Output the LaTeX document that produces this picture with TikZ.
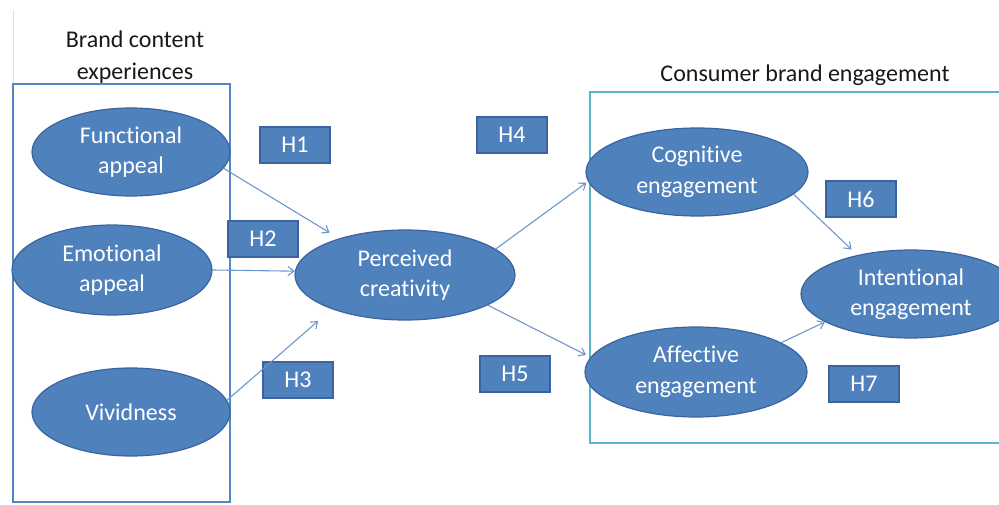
\documentclass[tikz,border=0pt]{standalone}
\usepackage{fontspec}
\setmainfont{Carlito}[Ligatures={NoCommon,NoContextual}]
\usetikzlibrary{shapes.geometric,arrows.meta}
\definecolor{nodefill}{HTML}{4F81BD}
\definecolor{nodeline}{HTML}{3A64A0}
\definecolor{arrowblue}{HTML}{6F97CC}
\definecolor{groupblue}{HTML}{5585C2}
\definecolor{groupteal}{HTML}{5BB5CC}
\begin{document}
\begin{tikzpicture}[x=1pt,y=-1pt,
  construct/.style={ellipse, fill=nodefill, draw=nodeline, line width=1.2pt,
    inner sep=0pt, text=white, align=center,
    font=\fontsize{24}{30.5}\selectfont},
  hyp/.style={rectangle, fill=nodefill, draw=nodeline, line width=1.2pt,
    minimum width=70pt, minimum height=36pt, inner sep=0pt, text=white,
    font=\fontsize{24}{28}\selectfont},
  link/.style={draw=arrowblue, line width=1.1pt,
    -{Straight Barb[length=6pt,width=9pt]}},
  heading/.style={text=black!90, align=center,
    font=\fontsize{24}{32}\selectfont}]
\useasboundingbox (0,0) rectangle (999,505);
\clip (0,0) rectangle (999,505);
\fill[white] (0,0) rectangle (999,505);

% group frames
\draw[black!12, line width=0.8pt] (13,10) -- (13,84);
\draw[groupblue, line width=1.4pt] (13,84) rectangle (230,502);
\draw[groupteal, line width=1.8pt] (590,92) rectangle (1010,443);

% group headings
\node[heading] (bceTitle) at (135,57) {Brand content\\experiences};
\node[heading] (cbeTitle) at (805,75) {Consumer brand engagement};

% constructs
\node[construct, minimum width=198pt, minimum height=88pt] (func) at (131,152) {Functional\\appeal};
\node[construct, minimum width=200pt, minimum height=90pt] (emot) at (112,270) {Emotional\\appeal};
\node[construct, minimum width=198pt, minimum height=88pt] (vivid) at (131,412) {Vividness};
\node[construct, minimum width=220pt, minimum height=90pt] (perc) at (405,275) {Perceived\\creativity};
\node[construct, minimum width=222pt, minimum height=88pt] (cog) at (697,172) {Cognitive\\engagement};
\node[construct, minimum width=222pt, minimum height=90pt] (aff) at (696,372) {Affective\\engagement};
\node[construct, minimum width=220pt, minimum height=88pt] (intent) at (911,294) {Intentional\\engagement};

% hypothesis labels
\node[hyp] (h1) at (295,145) {H1};
\node[hyp] (h2) at (263,239) {H2};
\node[hyp] (h3) at (298,380) {H3};
\node[hyp] (h4) at (512,135) {H4};
\node[hyp] (h5) at (515,374) {H5};
\node[hyp] (h6) at (861,199) {H6};
\node[hyp] (h7) at (864,384) {H7};

% paths
\draw[link, shorten >=11pt] (func.-10) -- (perc.151);
\draw[link] (emot.east) -- (perc.178);
\draw[link, shorten >=18pt] (vivid.7) -- (perc.205);
\draw[link, shorten >=2pt] (perc.16) -- (cog.185);
\draw[link, shorten >=5pt] (perc.-20) -- (aff.172);
\draw[link, shorten >=8pt] (cog.-13) -- (intent.144);
\draw[link] (aff.19) -- (intent.198);
\end{tikzpicture}
\end{document}
